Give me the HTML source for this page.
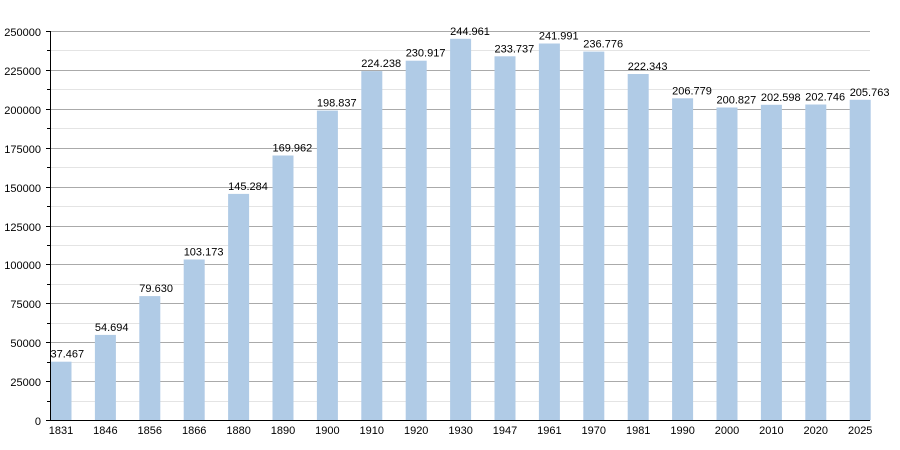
<!DOCTYPE html><html><head><style>body{margin:0;background:#fff}svg{display:block;font-family:"Liberation Sans",sans-serif}</style></head><body>
<svg width="900" height="450" xmlns="http://www.w3.org/2000/svg">
<g stroke="#e4e4e4">
<line x1="50" x2="870" y1="401.5" y2="401.5"/><line x1="50" x2="870" y1="362.5" y2="362.5"/><line x1="50" x2="870" y1="323.5" y2="323.5"/><line x1="50" x2="870" y1="284.5" y2="284.5"/><line x1="50" x2="870" y1="245.5" y2="245.5"/><line x1="50" x2="870" y1="206.5" y2="206.5"/><line x1="50" x2="870" y1="167.5" y2="167.5"/><line x1="50" x2="870" y1="128.5" y2="128.5"/><line x1="50" x2="870" y1="89.5" y2="89.5"/><line x1="50" x2="870" y1="50.5" y2="50.5"/>
</g>
<g stroke="#aaa">
<line x1="50" x2="870" y1="381.5" y2="381.5"/><line x1="50" x2="870" y1="342.5" y2="342.5"/><line x1="50" x2="870" y1="303.5" y2="303.5"/><line x1="50" x2="870" y1="264.5" y2="264.5"/><line x1="50" x2="870" y1="226.5" y2="226.5"/><line x1="50" x2="870" y1="187.5" y2="187.5"/><line x1="50" x2="870" y1="148.5" y2="148.5"/><line x1="50" x2="870" y1="109.5" y2="109.5"/><line x1="50" x2="870" y1="70.5" y2="70.5"/><line x1="50" x2="870" y1="31.5" y2="31.5"/>
</g>
<g stroke="#000">
<line x1="47" x2="50" y1="401.5" y2="401.5"/><line x1="47" x2="50" y1="362.5" y2="362.5"/><line x1="47" x2="50" y1="323.5" y2="323.5"/><line x1="47" x2="50" y1="284.5" y2="284.5"/><line x1="47" x2="50" y1="245.5" y2="245.5"/><line x1="47" x2="50" y1="206.5" y2="206.5"/><line x1="47" x2="50" y1="167.5" y2="167.5"/><line x1="47" x2="50" y1="128.5" y2="128.5"/><line x1="47" x2="50" y1="89.5" y2="89.5"/><line x1="47" x2="50" y1="50.5" y2="50.5"/>
<line x1="46" x2="50" y1="420.5" y2="420.5"/><line x1="46" x2="50" y1="381.5" y2="381.5"/><line x1="46" x2="50" y1="342.5" y2="342.5"/><line x1="46" x2="50" y1="303.5" y2="303.5"/><line x1="46" x2="50" y1="264.5" y2="264.5"/><line x1="46" x2="50" y1="226.5" y2="226.5"/><line x1="46" x2="50" y1="187.5" y2="187.5"/><line x1="46" x2="50" y1="148.5" y2="148.5"/><line x1="46" x2="50" y1="109.5" y2="109.5"/><line x1="46" x2="50" y1="70.5" y2="70.5"/><line x1="46" x2="50" y1="31.5" y2="31.5"/>
</g>
<g font-size="11" text-anchor="end" fill="#000">
<text x="41" y="425">0</text><text x="41" y="386">25000</text><text x="41" y="347">50000</text><text x="41" y="308">75000</text><text x="41" y="269">100000</text><text x="41" y="231">125000</text><text x="41" y="192">150000</text><text x="41" y="153">175000</text><text x="41" y="114">200000</text><text x="41" y="75">225000</text><text x="41" y="36">250000</text>
</g>
<g fill="#b0cbe6">
<rect x="50.5" y="361.7" width="21" height="58.3"/>
<rect x="94.9" y="334.9" width="21" height="85.1"/>
<rect x="139.3" y="296.1" width="21" height="123.9"/>
<rect x="183.7" y="259.5" width="21" height="160.5"/>
<rect x="228.1" y="193.9" width="21" height="226.1"/>
<rect x="272.5" y="155.5" width="21" height="264.5"/>
<rect x="316.9" y="110.6" width="21" height="309.4"/>
<rect x="361.3" y="71.1" width="21" height="348.9"/>
<rect x="405.7" y="60.7" width="21" height="359.3"/>
<rect x="450.1" y="38.8" width="21" height="381.2"/>
<rect x="494.5" y="56.3" width="21" height="363.7"/>
<rect x="538.9" y="43.5" width="21" height="376.5"/>
<rect x="583.3" y="51.6" width="21" height="368.4"/>
<rect x="627.7" y="74.0" width="21" height="346.0"/>
<rect x="672.1" y="98.3" width="21" height="321.7"/>
<rect x="716.5" y="107.5" width="21" height="312.5"/>
<rect x="760.9" y="104.8" width="21" height="315.2"/>
<rect x="805.3" y="104.5" width="21" height="315.5"/>
<rect x="849.7" y="99.8" width="21" height="320.2"/>
</g>
<g font-size="11" fill="#000">
<text x="50.5" y="357.7">37.467</text>
<text x="94.9" y="330.9">54.694</text>
<text x="139.3" y="292.1">79.630</text>
<text x="183.7" y="255.5">103.173</text>
<text x="228.1" y="189.9">145.284</text>
<text x="272.5" y="151.5">169.962</text>
<text x="316.9" y="106.6">198.837</text>
<text x="361.3" y="67.1">224.238</text>
<text x="405.7" y="56.7">230.917</text>
<text x="450.1" y="34.8">244.961</text>
<text x="494.5" y="52.3">233.737</text>
<text x="538.9" y="39.5">241.991</text>
<text x="583.3" y="47.6">236.776</text>
<text x="627.7" y="70">222.343</text>
<text x="672.1" y="94.3">206.779</text>
<text x="716.5" y="103.5">200.827</text>
<text x="760.9" y="100.8">202.598</text>
<text x="805.3" y="100.5">202.746</text>
<text x="849.7" y="95.8">205.763</text>
</g>
<g font-size="11" text-anchor="middle" fill="#000">
<text x="61" y="434">1831</text><text x="105.4" y="434">1846</text><text x="149.8" y="434">1856</text><text x="194.2" y="434">1866</text><text x="238.6" y="434">1880</text><text x="283" y="434">1890</text><text x="327.4" y="434">1900</text><text x="371.8" y="434">1910</text><text x="416.2" y="434">1920</text><text x="460.6" y="434">1930</text><text x="505" y="434">1947</text><text x="549.4" y="434">1961</text><text x="593.8" y="434">1970</text><text x="638.2" y="434">1981</text><text x="682.6" y="434">1990</text><text x="727" y="434">2000</text><text x="771.4" y="434">2010</text><text x="815.8" y="434">2020</text><text x="860.2" y="434">2025</text>
</g>
<line x1="50.5" x2="50.5" y1="31" y2="421" stroke="#000"/>
<line x1="50" x2="870" y1="420.5" y2="420.5" stroke="#000"/>
</svg></body></html>
